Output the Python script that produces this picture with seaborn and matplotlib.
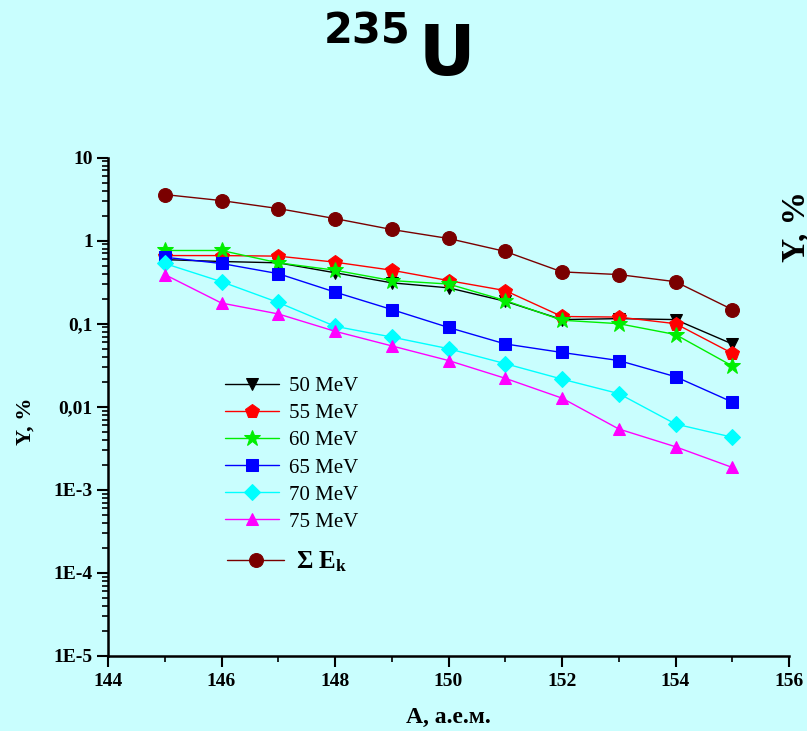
import numpy as np
import pandas as pd
import seaborn as sns
import matplotlib
matplotlib.use("Agg")
import matplotlib.pyplot as plt
from matplotlib.ticker import FixedLocator, FixedFormatter, LogLocator, NullFormatter, MultipleLocator

# ---- data ----
mass = [145, 146, 147, 148, 149, 150, 151, 152, 153, 154, 155]
y_50 = [0.59, 0.56, 0.54, 0.41, 0.31, 0.27, 0.186, 0.112, 0.115, 0.112, 0.057]
y_55 = [0.66, 0.66, 0.65, 0.55, 0.44, 0.33, 0.25, 0.122, 0.12, 0.10, 0.044]
y_60 = [0.76, 0.76, 0.54, 0.44, 0.33, 0.30, 0.19, 0.11, 0.10, 0.074, 0.031]
y_65 = [0.63, 0.53, 0.40, 0.24, 0.148, 0.090, 0.057, 0.045, 0.036, 0.023, 0.0114]
y_70 = [0.53, 0.32, 0.18, 0.093, 0.069, 0.050, 0.033, 0.0215, 0.0144, 0.0062, 0.0043]
y_75 = [0.39, 0.177, 0.131, 0.081, 0.054, 0.036, 0.022, 0.0127, 0.0054, 0.0033, 0.00186]
y_sum = [3.58, 3.03, 2.43, 1.84, 1.36, 1.06, 0.74, 0.42, 0.39, 0.32, 0.148]

series_labels = ["50 MeV", "55 MeV", "60 MeV", "65 MeV", "70 MeV", "75 MeV"]
sum_label = r"$\mathbf{\Sigma\ E_k}$"
x_ticks = [144, 146, 148, 150, 152, 154, 156]
y_ticks = [1e-5, 1e-4, 1e-3, 1e-2, 1e-1, 1, 10]
y_tick_labels = ["1E-5", "1E-4", "1E-3", "0,01", "0,1", "1", "10"]

bg = "#C9FEFE"
sns.set_theme(style="ticks")
plt.rcParams["font.family"] = ["Liberation Serif", "DejaVu Serif"]
plt.rcParams["font.weight"] = "bold"
plt.rcParams["text.color"] = "black"
plt.rcParams["xtick.color"] = "black"
plt.rcParams["ytick.color"] = "black"
plt.rcParams["axes.labelcolor"] = "black"
plt.rcParams["mathtext.fontset"] = "custom"
plt.rcParams["mathtext.bf"] = "Liberation Serif:bold"
plt.rcParams["mathtext.rm"] = "Liberation Serif:bold"
plt.rcParams["mathtext.it"] = "Liberation Serif:italic"

fig = plt.figure(figsize=(8.07, 7.31), dpi=100, facecolor=bg)
ax = fig.add_axes([108 / 807, 1 - 656 / 731, (789 - 108) / 807, (656 - 157.5) / 731])
ax.set_facecolor(bg)

styles = [
    ("#000000", "v", 9),
    ("#FF0000", "p", 10),
    ("#00EE00", "*", 12),
    ("#0000FF", "s", 8),
    ("#00FFFF", "D", 8),
    ("#FF00FF", "^", 9),
]
all_y = [y_50, y_55, y_60, y_65, y_70, y_75]
for vals, lab, (col, mk, ms) in zip(all_y, series_labels, styles):
    df = pd.DataFrame({"A": mass, "Y": vals})
    sns.lineplot(data=df, x="A", y="Y", ax=ax, color=col, marker=mk, markersize=ms,
                 markeredgecolor=col, linewidth=1.0, label=lab)
df = pd.DataFrame({"A": mass, "Y": y_sum})
sns.lineplot(data=df, x="A", y="Y", ax=ax, color="#7A0000", marker="o", markersize=10,
             markeredgecolor="#7A0000", linewidth=1.0, label=sum_label)

ax.set_yscale("log")
ax.set_xlim(144, 156)
ax.set_ylim(1e-5, 10)

ax.xaxis.set_major_locator(FixedLocator(x_ticks))
ax.xaxis.set_minor_locator(MultipleLocator(1))
ax.yaxis.set_major_locator(FixedLocator(y_ticks))
ax.yaxis.set_major_formatter(FixedFormatter(y_tick_labels))
ax.yaxis.set_minor_locator(LogLocator(base=10, subs=np.arange(2, 10)))
ax.yaxis.set_minor_formatter(NullFormatter())

ax.tick_params(axis="both", which="major", direction="out", length=8, width=1.5,
               color="black", labelsize=14, labelcolor="black")
ax.tick_params(axis="both", which="minor", direction="out", length=4, width=1.2, color="black")
ax.tick_params(axis="y", which="major", pad=3)
ax.tick_params(axis="x", which="major", pad=4)

sns.despine(ax=ax)
for s in ["left", "bottom"]:
    ax.spines[s].set_linewidth(1.8)
    ax.spines[s].set_color("black")
ax.grid(False)

ax.set_xlabel("A, а.е.м.", fontsize=17, fontweight="bold")
ax.set_ylabel("Y, %", fontsize=16, fontweight="bold")
ax.xaxis.set_label_coords(0.5, -0.102)
ax.yaxis.set_label_coords(-0.106, 0.47)

# legends
h, l = ax.get_legend_handles_labels()
leg1 = ax.legend(h[:6], l[:6], loc="upper left", bbox_to_anchor=(0.16, 0.577), frameon=False,
                 prop={"family": "Liberation Serif", "weight": "normal", "size": 15},
                 handlelength=2.6, labelspacing=0.36, handletextpad=0.45, borderaxespad=0)
ax.add_artist(leg1)
leg2 = ax.legend(h[6:], l[6:], loc="upper left", bbox_to_anchor=(0.16, 0.233), frameon=False,
                 prop={"family": "Liberation Serif", "weight": "bold", "size": 18},
                 handlelength=2.3, handletextpad=0.45, borderaxespad=0)

# title
fig.text(324 / 807, 1 - 44 / 731, "235", fontsize=30, fontweight="bold", family="DejaVu Sans",
         ha="left", va="baseline", color="black")
fig.text(419 / 807, 1 - 75 / 731, "U", fontsize=50, fontweight="bold", family="DejaVu Sans",
         ha="left", va="baseline", color="black")

# right-side cropped label
fig.text(796 / 807, 1 - 226 / 731, "Y, %", fontsize=24, fontweight="bold", rotation=90,
         ha="center", va="center", color="black")

fig.savefig("out.png", dpi=100, facecolor=bg)
